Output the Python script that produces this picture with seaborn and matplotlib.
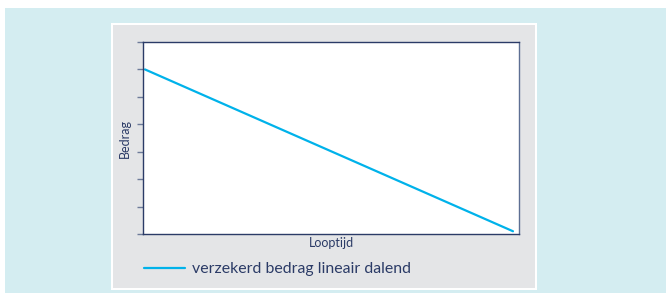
import pandas as pd
import matplotlib.pyplot as plt
import seaborn as sns
from matplotlib.patches import Rectangle

# Data
looptijd = [0, 30]
bedrag = [6, 0.1]
reeks = ["verzekerd bedrag lineair dalend"] * 2
y_ticks = [0, 1, 2, 3, 4, 5, 6, 7]

df = pd.DataFrame({"Looptijd": looptijd, "Bedrag": bedrag, "Reeks": reeks})

# Colours
navy = "#2b3b67"
tick_col = "#6e7b9a"
line_col = "#00b2ea"
cyan_bg = "#d4edf1"
panel_gray = "#e4e5e7"

sns.set_style("white")
plt.rcParams["font.family"] = ["Lato", "DejaVu Sans"]

W, H = 666, 293
fig = plt.figure(figsize=(W / 100, H / 100), dpi=100, facecolor="white")

def fig_rect(x0, y0, x1, y1, color, z):
    # pixel coords (top-left origin) -> figure fraction
    fig.patches.append(Rectangle((x0 / W, 1 - y1 / H), (x1 - x0) / W, (y1 - y0) / H,
                                 transform=fig.transFigure, facecolor=color,
                                 edgecolor="none", zorder=z))

fig_rect(5, 8, W, H, cyan_bg, 0)
fig_rect(111, 23, 537, 290, "white", 1)
fig_rect(113, 25, 535, 288, panel_gray, 2)

ax = fig.add_axes([143 / W, 1 - 234 / H, (519 - 143) / W, (234 - 42) / H])
ax.set_zorder(3)
ax.set_facecolor("white")

sns.lineplot(data=df, x="Looptijd", y="Bedrag", hue="Reeks", palette=[line_col],
             linewidth=1.6, ax=ax, legend=True)

ax.set_xlim(-0.16, 30.49)
ax.set_ylim(0, 7)
ax.set_yticks(y_ticks)
ax.set_yticklabels([])
ax.set_xticks([])
ax.tick_params(axis="y", direction="out", length=4, width=1, color=tick_col, left=True)
for s in ax.spines.values():
    s.set_color(navy)
    s.set_linewidth(1.0)
ax.spines["right"].set_color("#5d6f93")

ax.set_xlabel("Looptijd", fontsize=9, color=navy, labelpad=2)
ax.set_ylabel("Bedrag", fontsize=9, color=navy, labelpad=1)

handles, labels = ax.get_legend_handles_labels()
ax.get_legend().remove()
leg = fig.legend(handles, labels, loc="center left", bbox_to_anchor=(144 / W, 1 - 269 / H),
                 frameon=False, borderpad=0, borderaxespad=0, handlelength=2.6,
                 handletextpad=0.45, fontsize=11.4)
for t in leg.get_texts():
    t.set_color(navy)
leg.set_zorder(4)

fig.savefig("out.png", dpi=100, facecolor="white")
